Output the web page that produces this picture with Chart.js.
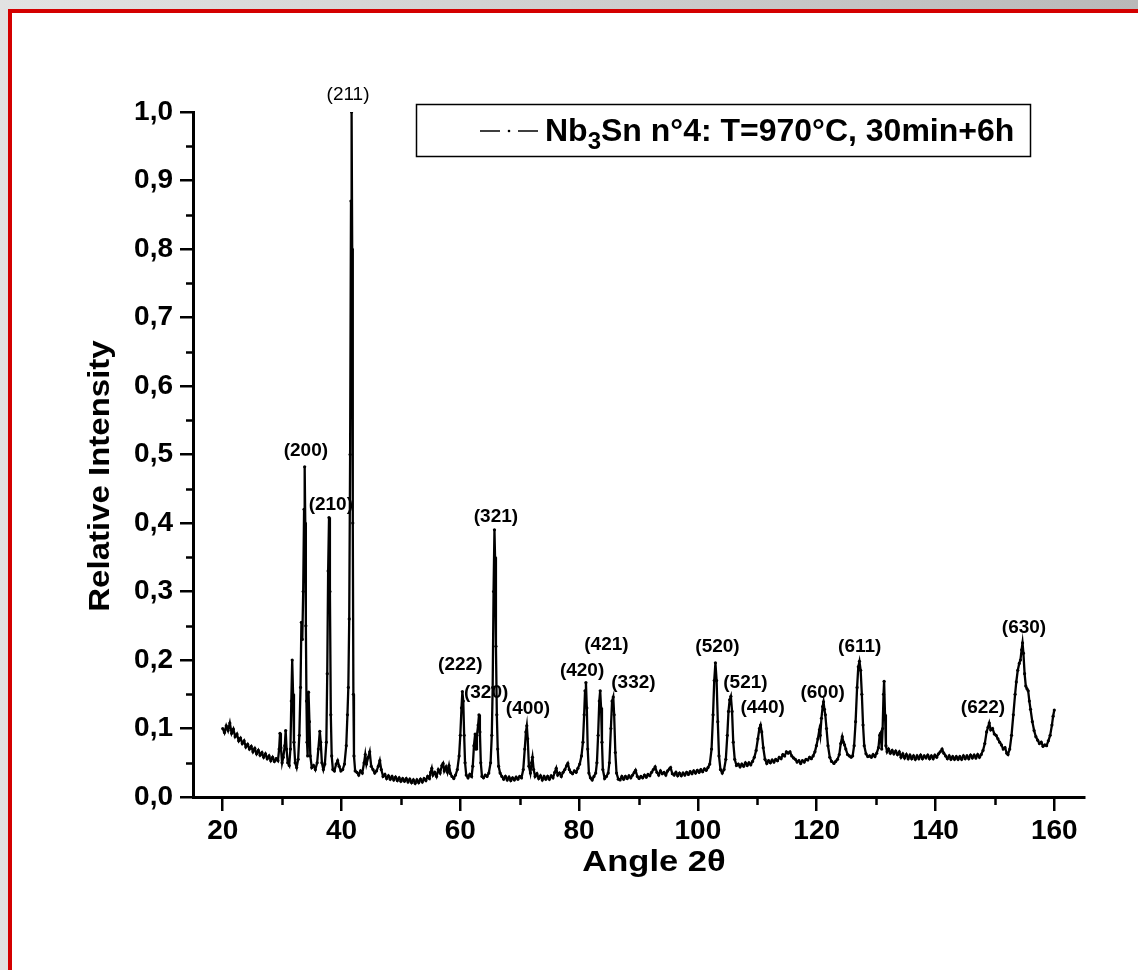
<!DOCTYPE html>
<html>
<head>
<meta charset="utf-8">
<script src="https://cdn.jsdelivr.net/npm/chart.js@4.4.1/dist/chart.umd.min.js"></script>
<style>
  html, body { margin: 0; padding: 0; width: 1138px; height: 970px; overflow: hidden; }
  body { background: linear-gradient(90deg, #e2e2e2 0%, #cfcfcf 50%, #b9b9b9 100%); position: relative; }
  #frame { position: absolute; left: 8px; top: 9px; width: 1200px; height: 1000px; background: #fff;
           border-top: 4px solid #d40000; border-left: 4px solid #d40000; }
  #wrap { position: absolute; left: 0; top: 0; width: 1138px; height: 970px; }
</style>
</head>
<body>
<div id="frame"></div>
<div id="wrap"><canvas id="c"></canvas></div>
<script>
// ---- Data ----
const seriesName = ['Nb', '3', 'Sn n°4: T=970°C, 30min+6h'];
const twoTheta = [
 20.0,20.3,20.6,20.9,21.2,21.5,21.8,22.1,22.4,22.7,23.0,23.3,23.6,23.9,24.2,24.5,24.8,25.1,25.4,25.7,
 26.0,26.3,26.6,26.9,27.2,27.5,27.8,28.1,28.4,28.7,29.0,29.3,29.5,29.65,29.8,30.0,30.2,30.45,30.6,30.75,
 30.95,31.2,31.4,31.55,31.7,31.85,32.0,32.2,32.45,32.7,32.9,33.1,33.25,33.4,33.55,33.7,33.8,33.9,34.0,34.1,
 34.2,34.3,34.45,34.6,34.75,35.0,35.3,35.6,35.9,36.1,36.35,36.5,36.7,36.95,37.2,37.45,37.6,37.75,37.9,38.05,
 38.2,38.35,38.55,38.8,39.1,39.35,39.6,39.9,40.2,40.5,40.8,41.0,41.15,41.3,41.45,41.6,41.7,41.8,41.9,42.0,
 42.1,42.3,42.6,42.9,43.2,43.5,43.8,44.0,44.2,44.5,44.75,45.0,45.3,45.6,45.9,46.2,46.45,46.7,47.0,47.3,
 47.6,47.9,48.2,48.5,48.8,49.1,49.4,49.7,50.0,50.3,50.6,50.9,51.2,51.5,51.8,52.1,52.4,52.7,53.0,53.3,
 53.6,53.9,54.2,54.5,54.8,55.0,55.2,55.4,55.7,56.0,56.3,56.6,56.9,57.1,57.3,57.6,57.85,58.1,58.35,58.6,
 58.9,59.2,59.5,59.8,60.0,60.2,60.35,60.5,60.65,60.8,61.0,61.3,61.6,61.9,62.1,62.3,62.5,62.65,62.8,63.0,
 63.15,63.3,63.45,63.65,63.9,64.2,64.5,64.8,65.1,65.3,65.45,65.6,65.75,65.85,66.0,66.15,66.3,66.45,66.7,67.0,
 67.3,67.6,67.9,68.2,68.5,68.8,69.1,69.4,69.7,70.0,70.3,70.6,70.85,71.05,71.2,71.35,71.55,71.8,72.0,72.15,
 72.35,72.6,72.9,73.2,73.5,73.8,74.1,74.4,74.7,75.0,75.3,75.6,75.9,76.15,76.4,76.7,77.0,77.3,77.6,77.9,
 78.1,78.35,78.6,78.9,79.2,79.5,79.8,80.1,80.4,80.65,80.85,81.0,81.15,81.3,81.45,81.65,81.9,82.2,82.5,82.8,
 83.0,83.2,83.4,83.55,83.7,83.85,84.0,84.3,84.6,84.9,85.1,85.35,85.55,85.75,85.9,86.1,86.3,86.6,86.9,87.2,
 87.5,87.8,88.1,88.4,88.7,89.0,89.3,89.5,89.8,90.1,90.4,90.7,91.0,91.3,91.6,91.9,92.2,92.5,92.8,93.1,
 93.4,93.7,94.0,94.3,94.6,94.9,95.2,95.4,95.7,96.0,96.3,96.6,96.9,97.2,97.5,97.8,98.1,98.4,98.7,99.0,
 99.3,99.6,99.9,100.2,100.5,100.8,101.1,101.4,101.7,102.0,102.3,102.55,102.75,102.95,103.15,103.35,103.55,103.8,104.1,104.4,
 104.7,104.95,105.15,105.35,105.55,105.75,105.95,106.2,106.5,106.8,107.1,107.4,107.7,108.0,108.3,108.6,108.9,109.2,109.5,109.8,
 110.1,110.35,110.55,110.75,111.0,111.3,111.6,111.9,112.2,112.5,112.8,113.1,113.4,113.7,114.0,114.3,114.6,114.9,115.2,115.5,
 115.8,116.1,116.4,116.7,117.0,117.3,117.6,117.9,118.2,118.5,118.8,119.1,119.4,119.7,119.95,120.2,120.45,120.6,120.8,121.0,
 121.15,121.3,121.45,121.65,121.9,122.2,122.5,122.9,123.2,123.5,123.8,124.05,124.3,124.5,124.7,124.9,125.2,125.5,125.8,126.05,
 126.3,126.55,126.8,127.0,127.2,127.4,127.6,127.8,128.0,128.3,128.6,128.9,129.2,129.5,129.8,130.1,130.4,130.6,130.75,130.95,
 131.1,131.25,131.35,131.5,131.65,131.85,132.1,132.4,132.7,133.0,133.3,133.6,133.9,134.2,134.5,134.8,135.1,135.4,135.7,136.0,
 136.3,136.6,136.9,137.2,137.5,137.8,138.1,138.4,138.7,139.0,139.3,139.6,139.9,140.2,140.5,140.8,141.1,141.4,141.7,142.0,
 142.3,142.6,142.9,143.2,143.5,143.8,144.1,144.4,144.7,145.0,145.3,145.6,145.9,146.2,146.5,146.8,147.1,147.4,147.7,148.0,
 148.3,148.6,148.85,149.05,149.3,149.6,149.9,150.2,150.5,150.8,151.1,151.4,151.7,152.0,152.2,152.5,152.8,153.1,153.4,153.6,
 153.85,154.1,154.3,154.5,154.65,154.8,155.0,155.2,155.4,155.6,155.8,156.0,156.3,156.6,156.9,157.2,157.5,157.8,158.1,158.4,
 158.7,159.0,159.3,159.6,159.8,160.0
];
const relIntensity = [
 0.100,0.094,0.104,0.097,0.108,0.093,0.099,0.088,0.092,0.082,0.086,0.078,0.082,0.073,0.077,0.070,0.074,0.066,0.071,0.063,
 0.068,0.061,0.065,0.058,0.063,0.056,0.060,0.053,0.058,0.052,0.056,0.053,0.070,0.093,0.072,0.050,0.058,0.075,0.097,0.070,
 0.050,0.046,0.070,0.140,0.200,0.150,0.080,0.050,0.043,0.055,0.090,0.160,0.255,0.230,0.300,0.420,0.482,0.400,0.250,0.140,
 0.080,0.060,0.153,0.110,0.060,0.043,0.046,0.040,0.050,0.070,0.096,0.080,0.050,0.040,0.048,0.080,0.180,0.330,0.408,0.300,
 0.120,0.060,0.040,0.038,0.048,0.053,0.045,0.038,0.040,0.048,0.075,0.120,0.160,0.260,0.500,0.870,1.000,0.800,0.400,0.150,
 0.060,0.038,0.036,0.032,0.038,0.035,0.050,0.062,0.048,0.058,0.066,0.045,0.040,0.035,0.038,0.045,0.053,0.040,0.030,0.033,
 0.027,0.031,0.026,0.030,0.025,0.029,0.024,0.028,0.023,0.027,0.023,0.027,0.022,0.026,0.021,0.025,0.020,0.025,0.021,0.026,
 0.022,0.027,0.024,0.030,0.027,0.036,0.042,0.032,0.036,0.030,0.040,0.035,0.046,0.049,0.038,0.044,0.036,0.046,0.034,0.030,
 0.027,0.032,0.040,0.060,0.090,0.130,0.154,0.140,0.090,0.050,0.032,0.028,0.033,0.030,0.045,0.075,0.092,0.070,0.090,0.105,
 0.120,0.095,0.050,0.030,0.028,0.032,0.030,0.035,0.050,0.090,0.160,0.300,0.390,0.350,0.220,0.120,0.070,0.045,0.035,0.030,
 0.026,0.030,0.025,0.029,0.024,0.028,0.025,0.029,0.026,0.030,0.028,0.040,0.070,0.095,0.104,0.085,0.045,0.035,0.050,0.058,
 0.040,0.030,0.034,0.027,0.031,0.025,0.030,0.026,0.030,0.026,0.031,0.028,0.036,0.042,0.032,0.035,0.030,0.036,0.040,0.046,
 0.049,0.040,0.036,0.034,0.038,0.036,0.042,0.048,0.060,0.080,0.120,0.155,0.167,0.130,0.070,0.035,0.028,0.025,0.030,0.035,
 0.050,0.090,0.140,0.155,0.130,0.080,0.040,0.027,0.030,0.035,0.050,0.100,0.140,0.146,0.120,0.065,0.035,0.026,0.025,0.030,
 0.026,0.030,0.027,0.031,0.028,0.032,0.036,0.039,0.030,0.027,0.030,0.028,0.032,0.029,0.033,0.031,0.036,0.040,0.044,0.036,
 0.032,0.038,0.034,0.036,0.032,0.038,0.041,0.043,0.034,0.032,0.036,0.031,0.035,0.031,0.035,0.032,0.036,0.033,0.037,0.034,
 0.038,0.035,0.039,0.036,0.040,0.037,0.041,0.039,0.043,0.048,0.070,0.120,0.170,0.196,0.170,0.110,0.060,0.040,0.035,0.040,
 0.055,0.090,0.125,0.142,0.147,0.125,0.080,0.055,0.046,0.048,0.044,0.048,0.045,0.050,0.046,0.050,0.047,0.052,0.058,0.068,
 0.085,0.100,0.105,0.095,0.072,0.055,0.049,0.053,0.050,0.054,0.051,0.055,0.053,0.058,0.056,0.062,0.060,0.066,0.064,0.066,
 0.060,0.057,0.055,0.051,0.053,0.049,0.053,0.051,0.055,0.054,0.058,0.056,0.060,0.066,0.075,0.085,0.098,0.090,0.115,0.132,
 0.139,0.128,0.120,0.100,0.075,0.058,0.052,0.049,0.052,0.055,0.062,0.078,0.088,0.080,0.076,0.070,0.062,0.060,0.058,0.060,
 0.075,0.110,0.160,0.190,0.198,0.185,0.150,0.105,0.075,0.063,0.059,0.060,0.058,0.062,0.059,0.064,0.072,0.090,0.093,0.070,
 0.100,0.150,0.169,0.120,0.075,0.066,0.070,0.064,0.068,0.063,0.067,0.062,0.066,0.058,0.063,0.057,0.062,0.056,0.061,0.056,
 0.060,0.055,0.060,0.056,0.061,0.056,0.060,0.057,0.061,0.056,0.060,0.056,0.061,0.058,0.063,0.066,0.070,0.064,0.060,0.056,
 0.060,0.055,0.059,0.055,0.059,0.055,0.059,0.055,0.060,0.056,0.060,0.056,0.061,0.057,0.061,0.057,0.062,0.058,0.062,0.068,
 0.078,0.095,0.102,0.108,0.098,0.100,0.092,0.090,0.085,0.080,0.076,0.070,0.072,0.064,0.062,0.070,0.090,0.120,0.150,0.168,
 0.185,0.195,0.200,0.215,0.225,0.210,0.180,0.162,0.158,0.155,0.140,0.128,0.110,0.097,0.088,0.083,0.078,0.080,0.074,0.076,
 0.075,0.082,0.090,0.105,0.118,0.127
];
const xTickValues = [20, 40, 60, 80, 100, 120, 140, 160];
const xMinorValues = [30, 50, 70, 90, 110, 130, 150];
const yTickValues = [0.0, 0.1, 0.2, 0.3, 0.4, 0.5, 0.6, 0.7, 0.8, 0.9, 1.0];
const yMinorValues = [0.05, 0.15, 0.25, 0.35, 0.45, 0.55, 0.65, 0.75, 0.85, 0.95];
const peakNames = ['(211)','(200)','(210)','(321)','(222)','(320)','(400)','(420)','(421)','(332)','(520)','(521)','(440)','(600)','(611)','(622)','(630)'];
const peakLabelX = [41.1, 34.0, 38.2, 66.0, 60.0, 64.35, 71.4, 80.5, 84.6, 89.15, 103.3, 108.0, 110.9, 121.0, 127.25, 148.0, 154.9];
const peakLabelY = [1.025, 0.506, 0.427, 0.409, 0.193, 0.152, 0.129, 0.184, 0.222, 0.167, 0.219, 0.167, 0.130, 0.152, 0.219, 0.130, 0.247];

const points = twoTheta.map((t, i) => ({ x: t, y: relIntensity[i] }));

const FONT = '"Liberation Sans", Arial, sans-serif';

function stretchedText(ctx, text, x, y, sx) {
  ctx.save();
  ctx.translate(x, y);
  ctx.scale(sx, 1);
  ctx.fillText(text, 0, 0);
  ctx.restore();
}

const decor = {
  id: 'decor',
  afterDraw(chart) {
    const ctx = chart.ctx;
    const xs = chart.scales.x, ys = chart.scales.y;
    const ca = chart.chartArea;
    ctx.save();
    // minor ticks
    ctx.strokeStyle = '#000';
    ctx.lineWidth = 2.5;
    ctx.beginPath();
    yMinorValues.forEach(v => {
      const py = Math.round(ys.getPixelForValue(v)) + 0.5;
      ctx.moveTo(ca.left - 7, py); ctx.lineTo(ca.left, py);
    });
    xMinorValues.forEach(v => {
      const px = Math.round(xs.getPixelForValue(v)) + 0.5;
      ctx.moveTo(px, ca.bottom); ctx.lineTo(px, ca.bottom + 8);
    });
    ctx.stroke();

    // peak labels
    ctx.fillStyle = '#000';
    ctx.textAlign = 'center';
    ctx.textBaseline = 'middle';
    peakNames.forEach((name, i) => {
      ctx.font = (i === 0 ? 'normal ' : 'bold ') + '19px ' + FONT;
      ctx.fillText(name, xs.getPixelForValue(peakLabelX[i]), ys.getPixelForValue(peakLabelY[i]));
    });

    // axis titles
    ctx.font = 'bold 30px ' + FONT;
    ctx.textAlign = 'center';
    ctx.textBaseline = 'middle';
    stretchedText(ctx, 'Angle 2θ', 654, 863, 1.15);
    ctx.save();
    ctx.translate(101, 476);
    ctx.rotate(-Math.PI / 2);
    ctx.scale(1.1, 1);
    ctx.fillText('Relative Intensity', 0, 0);
    ctx.restore();

    // legend box
    const bx = 416, by = 104, bw = 614, bh = 52;
    ctx.lineWidth = 1.5;
    ctx.strokeRect(bx + 0.5, by + 0.5, bw, bh);
    // dash-dot sample
    const ly = by + bh / 2 + 1;
    ctx.lineWidth = 1.5;
    ctx.beginPath();
    ctx.moveTo(480, ly); ctx.lineTo(500, ly);
    ctx.moveTo(518, ly); ctx.lineTo(538, ly);
    ctx.stroke();
    ctx.beginPath(); ctx.arc(509, ly, 1.3, 0, Math.PI * 2); ctx.fill();
    // legend text with subscript
    ctx.textAlign = 'left';
    ctx.textBaseline = 'alphabetic';
    let tx = 545; const base = by + 37;
    ctx.font = 'bold 32px ' + FONT;
    ctx.fillText(seriesName[0], tx, base); tx += ctx.measureText(seriesName[0]).width;
    ctx.font = 'bold 24px ' + FONT;
    ctx.fillText(seriesName[1], tx, base + 8); tx += ctx.measureText(seriesName[1]).width;
    ctx.font = 'bold 32px ' + FONT;
    ctx.fillText(seriesName[2], tx, base);
    ctx.restore();
  }
};

new Chart(document.getElementById('c'), {
  type: 'line',
  data: {
    datasets: [{
      label: seriesName.join(''),
      data: points,
      borderColor: '#000',
      backgroundColor: '#000',
      borderWidth: 2.3,
      pointRadius: 1.6,
      pointBorderWidth: 0,
      pointBackgroundColor: '#000',
      tension: 0,
      fill: false
    }]
  },
  options: {
    responsive: true,
    maintainAspectRatio: false,
    animation: false,
    events: [],
    layout: { padding: { left: 0, top: 112, right: 54, bottom: 0 } },
    plugins: { legend: { display: false }, tooltip: { enabled: false } },
    scales: {
      x: {
        type: 'linear',
        min: 15, max: 165,
        afterFit: s => { s.height = 173; },
        afterBuildTicks: s => { s.ticks = xTickValues.map(v => ({ value: v })); },
        grid: { display: true, drawOnChartArea: false, drawTicks: true, tickLength: 14, color: '#000', lineWidth: 2.5 },
        border: { display: true, color: '#000', width: 3 },
        ticks: { color: '#000', font: { family: FONT, size: 28, weight: 'bold' }, padding: 3, maxRotation: 0,
                 callback: v => String(v) }
      },
      y: {
        type: 'linear',
        min: 0, max: 1.0,
        afterFit: s => { s.width = 193; },
        afterBuildTicks: s => { s.ticks = yTickValues.map(v => ({ value: v })); },
        grid: { display: true, drawOnChartArea: false, drawTicks: true, tickLength: 13, color: '#000', lineWidth: 2.5 },
        border: { display: true, color: '#000', width: 3 },
        ticks: { color: '#000', font: { family: FONT, size: 28, weight: 'bold' }, padding: 7,
                 callback: v => Number(v).toFixed(1).replace('.', ',') }
      }
    }
  },
  plugins: [decor]
});
</script>
</body>
</html>
